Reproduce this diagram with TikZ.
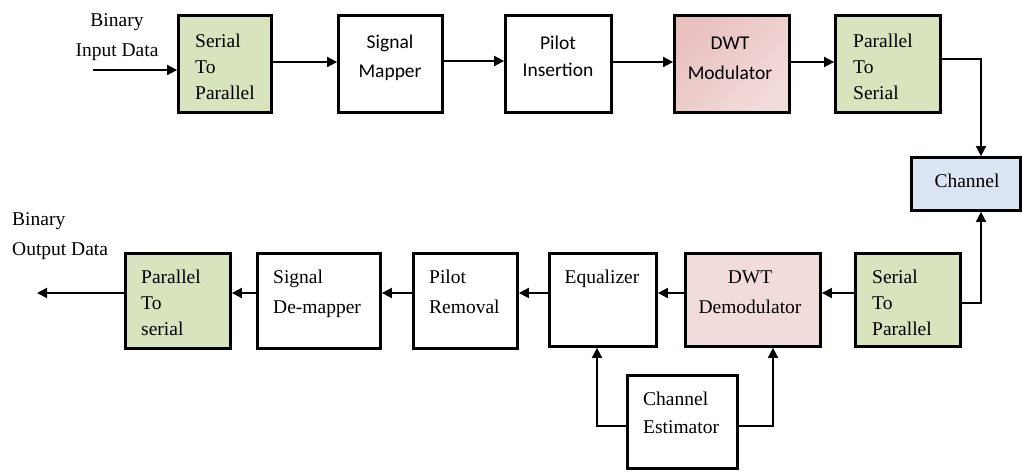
\documentclass[tikz,border=0pt]{standalone}
\usepackage{fontspec}
\setmainfont{Liberation Serif}
\newfontfamily\tnrfont{Liberation Serif}
\newfontfamily\calfont{Carlito}
\usetikzlibrary{arrows.meta}
\definecolor{grn}{HTML}{D7E4BD}
\definecolor{blu}{HTML}{DBE5F1}
\definecolor{pnk}{HTML}{F2DCDB}
\definecolor{pnkd}{HTML}{E6B9B8}
\newcommand\LL[2]{\vtop{\baselineskip=#1\lineskip=0pt\lineskiplimit=-100pt\halign{##\hfil\cr#2\crcr}}}
\newcommand\CL[2]{\vtop{\baselineskip=#1\lineskip=0pt\lineskiplimit=-100pt\halign{\hfil##\hfil\cr#2\crcr}}}
\tikzset{
  blk/.style={draw=black, line width=2.8pt, inner sep=0pt},
  txt/.style={inner sep=0pt, font=\tnrfont\fontsize{19.5pt}{23pt}\selectfont},
  ctxt/.style={inner sep=0pt, font=\calfont\fontsize{19.5pt}{23pt}\selectfont},
  arr/.style={line width=1.8pt, -{Triangle[length=10pt,width=10pt]}},
  wire/.style={line width=1.8pt}
}
\begin{document}
\begin{tikzpicture}[x=1pt,y=-1pt]
\useasboundingbox (0,0) rectangle (1022,471);
% top row boxes
\node[blk, fill=grn, minimum width=93pt, minimum height=97pt] (s2pa) at (225,64) {};
\node[blk, fill=white, minimum width=104pt, minimum height=97pt] (map) at (390.5,64) {};
\node[blk, fill=white, minimum width=106pt, minimum height=97pt] (pil) at (558.5,64) {};
\node[blk, left color=pnkd!80!pnk, right color=pnk, shading angle=45, minimum width=115pt, minimum height=97pt] (dwtm) at (732,64) {};
\node[blk, fill=grn, minimum width=105pt, minimum height=97pt] (p2sa) at (888,64) {};
\node[blk, fill=blu, minimum width=109pt, minimum height=53pt] (chan) at (966,184) {};
% bottom row boxes
\node[blk, fill=grn, minimum width=105pt, minimum height=93pt] (s2pb) at (908,300) {};
\node[blk, fill=pnk, minimum width=135pt, minimum height=93pt] (dwtd) at (753,300) {};
\node[blk, fill=white, minimum width=107pt, minimum height=93pt] (eq) at (603,300) {};
\node[blk, fill=white, minimum width=104pt, minimum height=95pt] (pr) at (465.5,301) {};
\node[blk, fill=white, minimum width=123pt, minimum height=95pt] (sdm) at (319,301) {};
\node[blk, fill=grn, minimum width=105pt, minimum height=95pt] (p2sb) at (178,301) {};
\node[blk, fill=white, minimum width=110pt, minimum height=93pt] (est) at (682.5,422) {};
% texts
\node[txt, anchor=base] (tin) at (117,27) {\CL{29pt}{Binary\cr Input Data}};
\node[txt, anchor=base west] (tout) at (12,225) {\LL{30pt}{Binary\cr Output Data}};
\node[txt, anchor=base west] (t1) at (195,47) {\LL{26pt}{Serial\cr To\cr Parallel}};
\node[ctxt, anchor=base] (t2) at (390,48) {\CL{29pt}{Signal\cr Mapper}};
\node[ctxt, anchor=base] (t3) at (558,49) {\CL{27pt}{Pilot\cr Insertion}};
\node[ctxt, anchor=base] (t4) at (730,49) {\CL{30pt}{DWT\cr Modulator}};
\node[txt, anchor=base west] (t5) at (853,47) {\LL{26pt}{Parallel\cr To\cr Serial}};
\node[txt, anchor=base] (t6) at (967,187) {Channel};
\node[txt, anchor=base west] (t7) at (872,283) {\LL{26pt}{Serial\cr To\cr Parallel}};
\node[txt, anchor=base] (t8) at (750,283) {\CL{30pt}{DWT\cr Demodulator}};
\node[txt, anchor=base] (t9) at (602,283) {Equalizer};
\node[txt, anchor=base west] (t10) at (429,283) {\LL{30pt}{Pilot\cr Removal}};
\node[txt, anchor=base west] (t11) at (273,283) {\LL{30pt}{Signal\cr De-mapper}};
\node[txt, anchor=base west] (t12) at (141,283) {\LL{26pt}{Parallel\cr To\cr serial}};
\node[txt, anchor=base west] (t13) at (643,405) {\LL{28pt}{Channel\cr Estimator}};
% connectors
\coordinate (in) at (93,70);
\coordinate (out) at (37,293);
\draw[arr] (in) -- (in -| s2pa.west);
\draw[arr] ([yshift=2pt]s2pa.east) -- ([yshift=2pt]map.west);
\draw[arr] ([yshift=3pt]map.east) -- ([yshift=3pt]pil.west);
\draw[arr] ([yshift=2pt]pil.east) -- ([yshift=2pt]dwtm.west);
\draw[arr] ([yshift=2pt]dwtm.east) -- ([yshift=2pt]p2sa.west);
\draw[arr] ([yshift=5pt]p2sa.east) -| ([xshift=15pt]chan.north);
\draw[arr] ([yshift=-3pt]s2pb.east) -| ([xshift=15pt]chan.south);
\draw[arr] ([yshift=7pt]s2pb.west) -- ([yshift=7pt]dwtd.east);
\draw[arr] ([yshift=7pt]dwtd.west) -- ([yshift=7pt]eq.east);
\draw[arr] ([yshift=8pt]eq.west |- pr.center) -- ([yshift=8pt]pr.east);
\draw[arr] ([yshift=8pt]pr.west) -- ([yshift=8pt]sdm.east);
\draw[arr] ([yshift=8pt]sdm.west) -- ([yshift=8pt]p2sb.east);
\draw[arr] ([yshift=8pt]p2sb.west) -- (out);
\draw[arr] ([yshift=-4pt]est.west) -| ([xshift=-6pt]eq.south);
\draw[arr] ([yshift=-4pt]est.east) -| ([xshift=20pt]dwtd.south);
\end{tikzpicture}
\end{document}
